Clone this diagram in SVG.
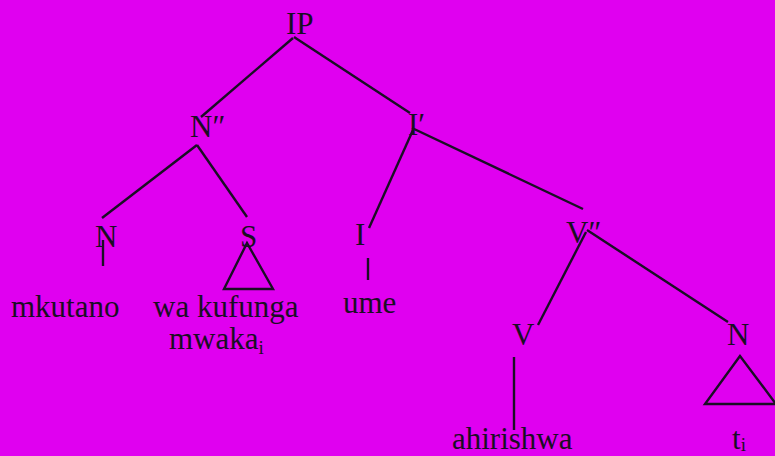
<svg xmlns="http://www.w3.org/2000/svg" width="775" height="456" viewBox="0 0 775 456">
<style>
text{font-family:"Liberation Serif","Times New Roman",serif;font-size:31px;fill:#1a0e24}
.sub{font-size:19px}
line,polygon{stroke:#1a0e24;stroke-width:2.4;fill:none}
</style>
<rect x="0" y="0" width="775" height="456" fill="#e000f0"/>
<g id="connectors">
<line x1="293" y1="38" x2="201" y2="117"/>
<line x1="294" y1="37" x2="410" y2="113"/>
<line x1="197" y1="145" x2="102" y2="218"/>
<line x1="197" y1="145" x2="247" y2="217"/>
<line x1="413" y1="130" x2="369" y2="228"/>
<line x1="412" y1="128" x2="583" y2="209"/>
<line x1="586" y1="232" x2="538" y2="325"/>
<line x1="587" y1="230" x2="728" y2="322"/>
<line x1="103" y1="240" x2="103" y2="266"/>
<line x1="368" y1="258" x2="368" y2="280"/>
<line x1="514" y1="357" x2="514" y2="430"/>
</g>
<g id="IP"><text x="286" y="34">IP</text></g>
<g id="N2"><text x="190" y="137">N″</text></g>
<g id="I1"><text x="408" y="135">I′</text></g>
<g id="N"><text x="95" y="247">N</text></g>
<g id="S"><text x="240" y="247">S</text><polygon points="247,243 224,289 273,289"/></g>
<g id="I"><text x="355" y="245">I</text></g>
<g id="V2"><text x="566" y="243">V″</text></g>
<g id="V"><text x="512" y="345">V</text></g>
<g id="N-right"><text x="727" y="345">N</text><polygon points="740,356 705,404 776,404"/></g>
<g id="mkutano"><text x="11" y="317">mkutano</text></g>
<g id="wakufunga"><text x="153" y="317">wa kufunga</text><text x="169" y="349">mwaka<tspan class="sub" dy="5">i</tspan></text></g>
<g id="ume"><text x="343" y="313">ume</text></g>
<g id="ahirishwa"><text x="452" y="449">ahirishwa</text></g>
<g id="ti"><text x="732" y="449">t<tspan class="sub" dy="2">i</tspan></text></g>
</svg>
